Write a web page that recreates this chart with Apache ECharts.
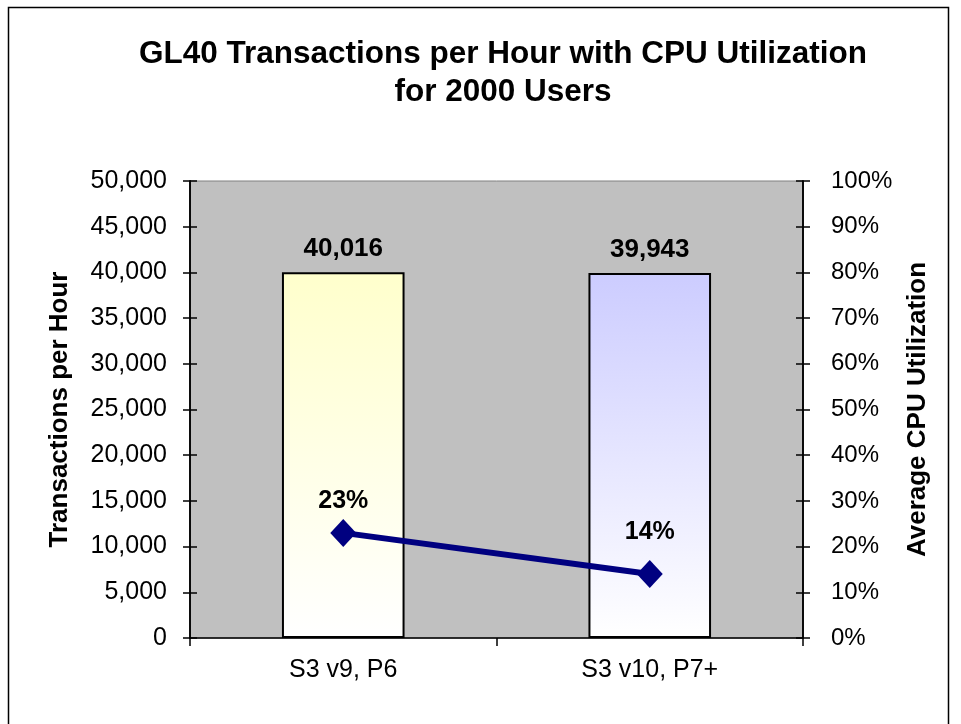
<!DOCTYPE html>
<html><head><meta charset="utf-8">
<script src="https://cdn.jsdelivr.net/npm/echarts@6/dist/echarts.min.js"></script>
<style>html,body{margin:0;padding:0;background:#fff}#c{width:961px;height:724px}</style>
</head><body><div id="c"></div>
<script>
var categories = ['S3 v9, P6', 'S3 v10, P7+'];
var transactions = [40016, 39943];
var cpuUtil = [23, 14];
var leftTicks = [0, 50000, 5000];
var rightTicks = [0, 100, 10];

var FONT = 'Liberation Sans, Arial, sans-serif';
var barTops = ['#FFFFCC', '#CCCCFF'];
var lineLabelDist = [5, 15];

var chart = echarts.init(document.getElementById('c'));
function yAx(pos, ticks, fmt, inside, showLabel, name) {
  return {
    type: 'value', position: pos, min: ticks[0], max: ticks[1], interval: ticks[2],
    name: name || '', nameLocation: 'middle', nameGap: pos === 'left' ? 117 : 102,
    nameTextStyle: {fontFamily: FONT, fontSize: 26, fontWeight: 'bold', color: '#000'},
    axisLine: {show: true, lineStyle: {color: '#000', width: 1.5}},
    axisTick: {show: true, inside: inside, length: 7, lineStyle: {color: '#000', width: 1.5}},
    axisLabel: {show: showLabel, formatter: fmt, fontFamily: FONT, fontSize: pos === 'left' ? 25 : 24, color: '#000', margin: pos === 'left' ? 23 : 28},
    splitLine: {show: false}
  };
}
chart.setOption({
  animation: false,
  graphic: [{type: 'rect', shape: {x: 8.5, y: 7.5, width: 940, height: 740}, style: {fill: 'none', stroke: '#000', lineWidth: 1.5}, z: -10}],
  title: {
    text: 'GL40 Transactions per Hour with CPU Utilization\nfor 2000 Users',
    left: 498, top: 30, textAlign: 'center',
    textStyle: {fontFamily: FONT, fontSize: 31.5, fontWeight: 'bold', color: '#000', lineHeight: 38}
  },
  grid: {left: 190, right: 158, top: 181, bottom: 86, show: true, backgroundColor: '#C0C0C0', borderColor: '#808080', borderWidth: 1},
  xAxis: {
    type: 'category', data: categories,
    axisLine: {lineStyle: {color: '#000', width: 1.5}},
    axisTick: {show: true, length: 8, lineStyle: {color: '#000', width: 1.5}},
    axisLabel: {fontFamily: FONT, fontSize: 25, color: '#000', margin: 20}
  },
  yAxis: [
    yAx('left', leftTicks, function(v){return v.toLocaleString('en-US');}, false, true, 'Transactions per Hour'),
    yAx('right', rightTicks, '{value}%', false, true, 'Average CPU Utilization'),
    yAx('left', leftTicks, '', true, false),
    yAx('right', rightTicks, '', true, false)
  ],
  series: [
    {
      type: 'bar', yAxisIndex: 0, barWidth: '40%',
      data: transactions.map(function(v, i){
        return {value: v, itemStyle: {color: new echarts.graphic.LinearGradient(0, 0, 0, 1, [{offset: 0, color: barTops[i]}, {offset: 1, color: '#FFFFFF'}])}};
      }),
      itemStyle: {borderColor: '#000', borderWidth: 2},
      label: {show: true, position: 'top', distance: 10, fontFamily: FONT, fontSize: 26, fontWeight: 'bold', color: '#000',
        formatter: function(p){return p.value.toLocaleString('en-US');}}
    },
    {
      type: 'line', yAxisIndex: 1, symbol: 'diamond', symbolSize: [26, 28],
      lineStyle: {color: '#000080', width: 6}, itemStyle: {color: '#000080'},
      data: cpuUtil.map(function(v, i){ return {value: v, label: {distance: lineLabelDist[i]}}; }),
      label: {show: true, position: 'top', fontFamily: FONT, fontSize: 25, fontWeight: 'bold', color: '#000', formatter: '{c}%'},
      z: 5
    }
  ]
});
</script></body></html>
